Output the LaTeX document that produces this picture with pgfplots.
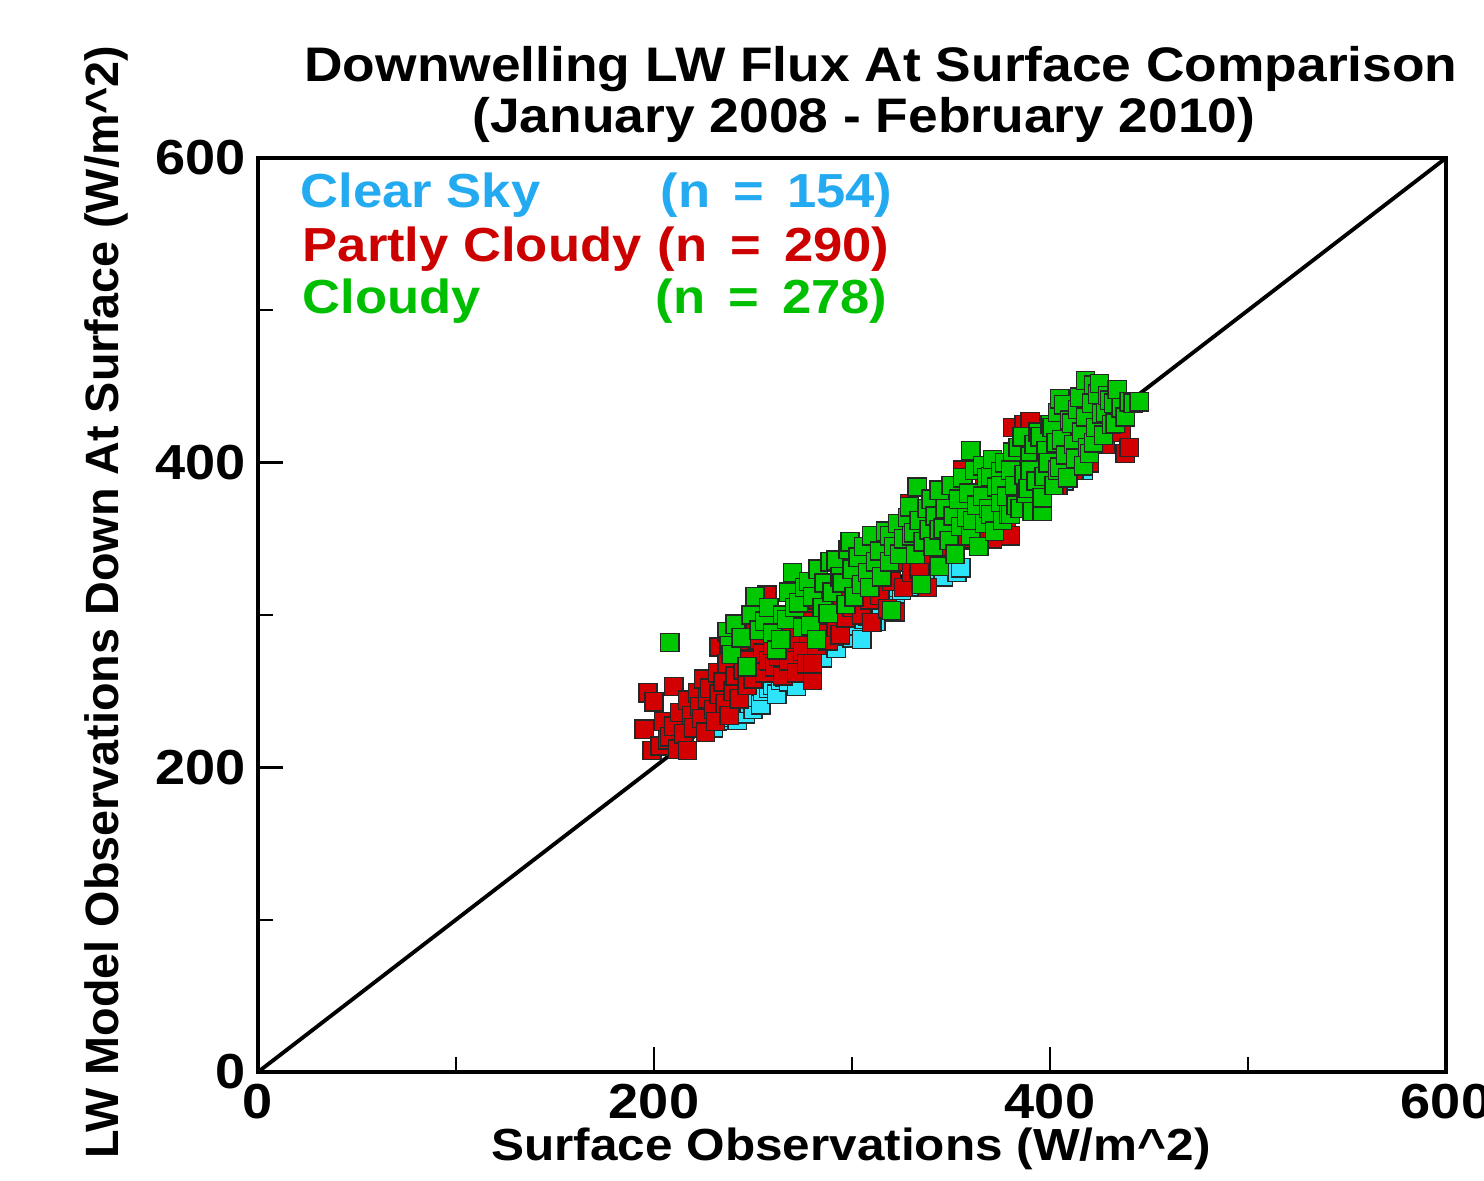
\documentclass[border=0pt]{standalone}
\usepackage{pgfplots}
\pgfplotsset{compat=1.18}
\usepackage{fontspec}
\setmainfont{Liberation Sans}[FakeStretch=1.1]
\newfontfamily\ylfont{Liberation Sans}

\definecolor{clearTxt}{RGB}{35,170,240}
\definecolor{clearMk}{RGB}{45,228,250}
\definecolor{pcTxt}{RGB}{205,0,0}
\definecolor{pcMk}{RGB}{210,0,0}
\definecolor{clTxt}{RGB}{0,190,0}
\definecolor{clMk}{RGB}{0,200,0}

\newcommand\titlefont{\bfseries\fontsize{13.8}{16}\selectfont}
\newcommand\legfont{\bfseries\fontsize{13.6}{16}\selectfont}
\newcommand\tickfont{\bfseries\fontsize{14}{16}\selectfont}
\newcommand\labfont{\bfseries\fontsize{12.8}{15}\selectfont}
\newcommand\gap{\hspace{0.23cm}}

% square marker with rounded corners
\pgfdeclareplotmark{rsquare}{%
  \pgfsetcornersarced{\pgfpoint{0.3\pgfplotmarksize}{0.3\pgfplotmarksize}}%
  \pgfpathmoveto{\pgfpoint{-\pgfplotmarksize}{0pt}}%
  \pgfpathlineto{\pgfpoint{-\pgfplotmarksize}{\pgfplotmarksize}}%
  \pgfpathlineto{\pgfpoint{\pgfplotmarksize}{\pgfplotmarksize}}%
  \pgfpathlineto{\pgfpoint{\pgfplotmarksize}{-\pgfplotmarksize}}%
  \pgfpathlineto{\pgfpoint{-\pgfplotmarksize}{-\pgfplotmarksize}}%
  \pgfpathclose
  \pgfusepathqfillstroke}

\begin{document}
\begin{tikzpicture}
\path[use as bounding box] (-2.58,-1.08) rectangle (12.26,10.72);

\begin{axis}[
    at={(0,0)}, anchor=south west,
    scale only axis,
    width=11.88cm, height=9.14cm,
    xmin=0, xmax=600, ymin=0, ymax=600,
    xtick={0,200,400,600}, ytick={0,200,400,600},
    minor xtick={100,300,500}, minor ytick={100,300,500},
    tick pos=left,
    tick align=inside,
    major tick length=0.25cm,
    minor tick length=0.15cm,
    major tick style={line width=0.7pt, black},
    minor tick style={line width=0.5pt, black},
    axis line style={line width=1.1pt},
    /pgf/number format/assume math mode=true,
    tick label style={font=\tickfont},
    scaled ticks=false,
    clip=false,
    every axis plot/.append style={only marks, mark=rsquare, mark size=2.6pt},
]

% Clear Sky (n = 154)
\addplot[mark options={draw=black!85, line width=0.4pt, fill=clearMk}]
coordinates {
(225,226) (228,229) (230,226) (232,230) (234,231) (236,233) (238,234) (240,236)
(242,231) (243,238) (245,240) (246,235) (248,242) (250,244) (250,238) (252,246)
(254,241) (255,250) (258,252) (260,254) (262,248) (264,257) (266,259) (268,256)
(270,262) (272,253) (274,265) (276,268) (278,264) (280,270) (282,274) (284,278)
(285,272) (288,280) (290,283) (292,278) (295,286) (298,290) (300,285) (302,293)
(305,284) (306,297) (308,299) (310,301) (312,296) (315,305) (318,308) (320,311)
(322,306) (325,316) (328,318) (330,320) (333,324) (335,319) (338,329) (340,331)
(343,327) (345,336) (346,325) (348,339) (350,341) (353,328) (355,331) (358,349)
(360,352) (363,355) (365,351) (368,360) (370,363) (373,366) (375,360) (378,370)
(380,373) (383,376) (385,380) (388,377) (390,384) (393,387) (395,392) (398,394)
(400,397) (403,395) (405,400) (407,388) (410,404) (413,408) (415,410) (417,395)
(420,414)
};

% Partly Cloudy (n = 290)
\addplot[mark options={draw=black!85, line width=0.4pt, fill=pcMk}]
coordinates {
(195,225) (197,249) (200,243) (199,211) (203,214) (205,230) (207,218) (208,220)
(210,253) (210,227) (212,212) (213,236) (215,222) (217,211) (217,244) (219,234)
(220,226) (222,249) (223,240) (224,232) (225,258) (226,223) (227,245) (228,252)
(230,238) (231,230) (232,262) (233,279) (233,248) (235,256) (236,242) (237,268)
(238,234) (240,250) (241,260) (242,276) (243,245) (245,264) (246,283) (247,254)
(248,270) (250,258) (251,288) (252,284) (253,266) (255,275) (256,262) (257,313)
(257,290) (258,270) (260,280) (261,266) (262,296) (263,273) (264,285) (265,260)
(266,290) (267,278) (268,270) (270,300) (271,284) (272,262) (273,292) (275,276)
(276,305) (277,268) (278,288) (280,257) (280,268) (281,296) (282,280) (283,310)
(285,290) (287,300) (288,283) (290,305) (292,292) (294,287) (295,310) (297,298)
(299,327) (300,305) (301,337) (303,315) (305,300) (307,320) (309,310) (310,295)
(312,325) (314,313) (316,330) (318,304) (320,322) (322,302) (324,335) (326,318)
(328,340) (329,373) (330,364) (330,328) (332,345) (334,330) (336,350) (338,318)
(340,340) (342,355) (344,335) (346,360) (348,345) (350,365) (352,340) (354,370)
(356,395) (357,350) (359,375) (361,360) (363,380) (365,355) (367,385) (369,365)
(371,350) (372,390) (374,372) (376,395) (378,360) (380,352) (380,385) (381,423)
(383,400) (385,378) (387,425) (388,405) (390,427) (390,390) (392,410) (394,380)
(396,415) (398,395) (400,420) (402,400) (404,385) (406,415) (408,405) (410,425)
(412,395) (414,418) (416,408) (418,430) (420,400) (422,420) (425,430) (428,412)
(430,425) (433,432) (436,420) (438,406) (440,410)
};

% Cloudy (n = 278)
\addplot[mark options={draw=black!85, line width=0.4pt, fill=clMk}]
coordinates {
(208,282) (237,289) (238,280) (239,274) (241,294) (244,285) (247,266) (249,300)
(251,312) (253,290) (256,296) (258,305) (260,288) (262,277) (264,284) (265,300)
(267,297) (268,315) (270,328) (271,305) (273,308) (275,292) (276,318) (278,322)
(279,293) (280,312) (282,284) (283,330) (285,305) (286,321) (288,301) (289,335)
(290,315) (292,336) (294,325) (295,321) (297,307) (298,343) (299,348) (300,330)
(301,312) (303,338) (305,320) (306,345) (308,328) (309,318) (310,352) (312,335)
(314,342) (315,325) (317,355) (319,335) (319,352) (320,303) (321,345) (323,360)
(324,340) (326,350) (328,364) (329,371) (330,352) (331,354) (332,340) (333,384)
(334,362) (335,320) (336,348) (338,370) (339,356) (340,376) (341,345) (342,365)
(344,382) (344,356) (344,332) (346,357) (347,370) (349,349) (350,385) (351,365)
(352,340) (354,376) (355,358) (356,390) (358,364) (359,380) (360,408) (360,352)
(361,362) (362,395) (363,372) (364,345) (366,378) (366,398) (367,360) (368,390)
(369,370) (370,366) (370,391) (371,402) (372,355) (373,384) (375,394) (375,374)
(375,385) (376,362) (377,400) (378,378) (379,366) (380,366) (380,395) (381,407)
(382,385) (383,372) (384,410) (385,370) (386,417) (387,392) (388,380) (389,383)
(390,404) (390,395) (391,368) (392,412) (393,388) (394,420) (395,417) (396,368)
(396,377) (397,391) (398,408) (399,400) (400,425) (401,423) (402,385) (403,413)
(404,433) (404,395) (405,397) (405,442) (406,415) (407,438) (408,405) (409,390)
(410,428) (411,426) (412,412) (413,403) (414,435) (415,443) (416,420) (417,398)
(418,454) (418,430) (419,410) (420,406) (421,439) (422,413) (422,451) (423,423)
(424,445) (425,452) (426,432) (427,418) (428,433) (429,444) (430,441) (431,425)
(432,439) (433,426) (434,448) (436,436) (438,430) (440,440) (442,439) (445,440)
};

% 1:1 line
\addplot[black, line width=1.1pt, mark=none, only marks=false, sharp plot] coordinates {(0,0) (600,600)};
\end{axis}

% titles and labels
\node[anchor=base, font=\titlefont] at (6.23,9.90) {Downwelling LW Flux At Surface Comparison};
\node[anchor=base, font=\titlefont] at (6.06,9.39) {(January 2008 - February 2010)};
\node[anchor=base, font=\labfont] at (5.93,-0.88) {Surface Observations (W/m\^{}2)};
\node[anchor=base, rotate=90, font=\ylfont\bfseries\fontsize{13.3}{15}\selectfont] at (-1.40,4.70)
    {LW Model Observations Down At Surface (W/m\^{}2)};

% legend text
\node[anchor=base west, inner sep=0pt, font=\legfont, text=clearTxt] at (0.42,8.64) {Clear Sky};
\node[anchor=base west, inner sep=0pt, font=\legfont, text=clearTxt] at (4.02,8.64) {(n\gap=\gap154)};
\node[anchor=base west, inner sep=0pt, font=\legfont, text=pcTxt] at (0.44,8.10) {Partly Cloudy};
\node[anchor=base west, inner sep=0pt, font=\legfont, text=pcTxt] at (3.99,8.10) {(n\gap=\gap290)};
\node[anchor=base west, inner sep=0pt, font=\legfont, text=clTxt] at (0.44,7.58) {Cloudy};
\node[anchor=base west, inner sep=0pt, font=\legfont, text=clTxt] at (3.97,7.58) {(n\gap=\gap278)};
\end{tikzpicture}
\end{document}
